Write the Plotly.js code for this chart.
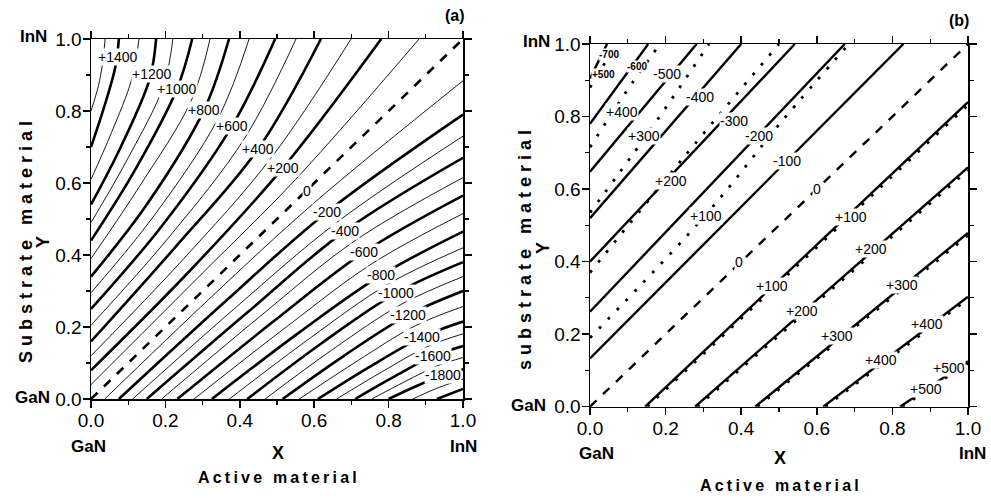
<!DOCTYPE html>
<html><head><meta charset="utf-8">
<script src="https://cdn.plot.ly/plotly-3.0.1.min.js"></script>
<style>html,body{margin:0;padding:0;background:#fff;}</style>
</head><body><div id="chart" style="width:991px;height:498px;"></div>
<script>
// ---------- Panel (a): contour levels and traced line points ----------
const aLevels = [1500,1400,1300,1200,1100,1000,900,800,700,600,500,400,300,200,100,0,
  -100,-200,-300,-400,-500,-600,-700,-800,-900,-1000,-1100,-1200,-1300,-1400,-1500,-1600,-1700,-1800,-1900,-2000];
const aLineX = [
  [0,.02,.03,.038],[0,.035,.065,.075],[0,.055,.11,.129],[0,.08,.158,.175],[0,.10,.195,.22],
  [0,.115,.231,.272],[0,.13,.27,.32],[0,.15,.304,.371],[0,.17,.342,.425],[0,.19,.379,.495],
  [0,.21,.414,.551],[0,.225,.449,.618],[0,.245,.483,.699],[0,.26,.516,.78],[0,.30,.55,.882],
  [0,1],
  [.037,.32,.6,1],[.075,.36,.634,1],[.112,.39,.66,1],[.15,.42,.683,1],[.19,.455,.71,1],
  [.232,.49,.734,1],[.277,.525,.757,1],[.325,.56,.78,1],[.372,.59,.80,1],[.42,.62,.82,1],
  [.468,.65,.836,1],[.515,.68,.852,1],[.56,.715,.871,1],[.61,.75,.89,1],[.66,.783,.905,1],
  [.71,.815,.919,1],[.755,.845,.933,1],[.80,.875,.946,1],[.865,.935,1],[.93,1]
];
const aLineY = [
  [.80,.87,.925,1],[.70,.81,.92,1],[.61,.74,.89,1],[.54,.70,.89,1],[.49,.67,.87,1],
  [.44,.63,.861,1],[.39,.59,.83,1],[.34,.54,.803,1],[.295,.51,.78,1],[.25,.48,.758,1],
  [.205,.45,.726,1],[.16,.42,.694,1],[.12,.385,.668,1],[.08,.35,.642,1],[.04,.35,.61,1],
  [0,1],
  [0,.28,.545,.884],[0,.27,.519,.79],[0,.255,.49,.73],[0,.24,.467,.67],[0,.23,.44,.615],
  [0,.215,.408,.565],[0,.20,.377,.515],[0,.185,.344,.465],[0,.17,.32,.42],[0,.155,.294,.38],
  [0,.138,.264,.34],[0,.12,.233,.30],[0,.105,.203,.257],[0,.09,.172,.215],[0,.076,.146,.181],
  [0,.062,.119,.147],[0,.049,.093,.115],[0,.036,.067,.083],[0,.032,.055],[0,.028]
];
const aLabelText = ["+1400","+1200","+1000","+800","+600","+400","+200","0","-200","-400","-600","-800","-1000","-1200","-1400","-1600","-1800"];
const aLabelX = [.073,.164,.231,.304,.379,.449,.516,.581,.634,.683,.734,.780,.820,.852,.890,.919,.946];
const aLabelY = [.950,.903,.861,.803,.758,.694,.642,.578,.519,.467,.408,.344,.294,.233,.172,.119,.067];

// ---------- Panel (b) ----------
const bSolidLevels = [-700,-600,-500,-400,-300,-200,-100,0,100,200,300,400,500];
const bSolidX = [[0,.045],[0,.154],[0,.282],[0,.40],[0,.542],[0,.674],[0,.829],[0,1],
  [.146,1],[.278,1],[.437,1],[.617,1],[.82,1]];
const bSolidY = [[.905,1],[.78,1],[.648,1],[.52,1],[.40,1],[.262,1],[.133,1],[0,1],
  [0,.84],[0,.66],[0,.479],[0,.303],[0,.125]];
const bDotLevels = [500,400,300,200,100,100,200,300,400,500];
const bDotX = [[0,.07],[0,.093,.185],[0,.15,.315],[0,.25,.50],[0,.307,.51,.685],
  [.152,1],[.284,1],[.443,1],[.623,1],[.826,1]];
const bDotY = [[.88,1],[.715,.864,1],[.535,.749,1],[.37,.69,1],[.19,.53,.79,1],
  [0,.832],[0,.652],[0,.472],[0,.297],[0,.12]];
const bLabelText = ["-700","+500","-600","-500","+400","-400","+300","-300","+200","-200","+100","-100","0","0",
  "+100","+200","+300","+400","+500","+100","+200","+300","+400","+500"];
const bLabelX = [.05,.037,.124,.204,.085,.291,.143,.381,.214,.447,.307,.521,.60,.395,
  .69,.743,.825,.892,.95,.481,.561,.653,.77,.889];
const bLabelY = [.97,.917,.939,.917,.812,.854,.746,.787,.622,.746,.526,.677,.60,.40,
  .523,.435,.335,.228,.106,.332,.263,.194,.128,.05];

const ticksVals = [0,0.2,0.4,0.6,0.8,1.0];
const ticksText = ["0.0","0.2","0.4","0.6","0.8","1.0"];

// ---------- build ----------
const traces = [];
aLevels.forEach((lv,i)=>{
  const thick = (lv % 200 === 0);
  traces.push({type:'scatter',mode:'lines',x:aLineX[i],y:aLineY[i],xaxis:'x',yaxis:'y',
    hoverinfo:'skip',showlegend:false,
    line:{color:'#000',width: lv===0 ? 2.6 : (thick?2.6:0.9), shape:'spline', smoothing:1,
          dash: lv===0 ? '9px,9px' : 'solid'}});
});
bSolidLevels.forEach((lv,i)=>{
  traces.push({type:'scatter',mode:'lines',x:bSolidX[i],y:bSolidY[i],xaxis:'x2',yaxis:'y2',
    hoverinfo:'skip',showlegend:false,
    line:{color:'#000',width:2.4,shape:'spline',dash: lv===0 ? '9px,9px':'solid'}});
});
bDotLevels.forEach((lv,i)=>{
  traces.push({type:'scatter',mode:'lines',x:bDotX[i],y:bDotY[i],xaxis:'x2',yaxis:'y2',
    hoverinfo:'skip',showlegend:false,
    line:{color:'#000',width:2.8,shape:'spline',dash:'2.8px,10px'}});
});

const FONT = 'Liberation Sans, Arial, sans-serif';
const ann = [];
aLabelText.forEach((t,i)=>ann.push({xref:'x',yref:'y',x:aLabelX[i],y:aLabelY[i],text:t,showarrow:false,
  bgcolor:'#fff',borderpad:0,font:{family:FONT,size:14,color:'#000'}}));
bLabelText.forEach((t,i)=>{
  const small = i<3;
  ann.push({xref:'x2',yref:'y2',x:bLabelX[i],y:bLabelY[i],text: small?('<b>'+t+'</b>'):t,showarrow:false,
    bgcolor:'#fff',borderpad:0,font:{family:FONT,size: small?10:14,color:'#000'}});
});
function P(px,py,text,size,angle){
  ann.push({xref:'paper',yref:'paper',x:px/991,y:1-py/498,text:text,showarrow:false,
    xanchor:'center',yanchor:'middle',textangle:angle||0,font:{family:FONT,size:size,color:'#000'}});
}
const sp = s => s.split('').join('\u2009');
const sp2 = s => s.split('').join('\u00a0');
// panel a text
P(455,15,'<b>(a)</b>',16);
P(33,36,'<b>InN</b>',17);
P(32,397,'<b>GaN</b>',17);
P(88,446,'<b>GaN</b>',17);
P(463,446,'<b>InN</b>',17);
P(278,453,'<b>X</b>',18);
P(277,477,'<b>'+sp('Active material')+'</b>',16);
P(26,242,'<b>'+sp2('Substrate')+'\u00a0\u00a0\u00a0'+sp2('material')+'</b>',18,-90);
P(43,242,'<b>Y</b>',18,-90);
// panel b text
P(959,20,'<b>(b)</b>',16);
P(536,42,'<b>InN</b>',17);
P(528,405,'<b>GaN</b>',17);
P(596,453,'<b>GaN</b>',17);
P(972,453,'<b>InN</b>',17);
P(780,458,'<b>X</b>',18);
P(779,485,'<b>'+sp('Active material')+'</b>',16);
P(525,250,'<b>'+sp2('substrate')+'\u00a0\u00a0\u00a0'+sp2('material')+'</b>',18,-90);
P(543,248,'<b>Y</b>',18,-90);

function ax(dom, anchor){
  return {domain:dom, anchor:anchor, range:[0,1], showgrid:false, zeroline:false,
    showline:true, linecolor:'#000', linewidth:1.5, mirror:'ticks',
    ticks:'outside', ticklen:7, tickwidth:1.5, tickcolor:'#000', ticklabelstandoff:-3,
    tickvals:ticksVals, ticktext:ticksText,
    tickfont:{family:'Liberation Sans Narrow, Arial Narrow, Liberation Sans, Arial, sans-serif',size:19,color:'#000'},
    minor:{tickvals:[0.1,0.3,0.5,0.7,0.9],ticks:'outside',ticklen:4,tickwidth:1.2,tickcolor:'#000'},
    fixedrange:true};
}
const layout = {
  width:991,height:498,margin:{l:0,r:0,t:0,b:0},paper_bgcolor:'#fff',plot_bgcolor:'#fff',
  showlegend:false,
  xaxis: ax([91/991,463/991],'y'),
  yaxis: ax([1-399/498,1-39/498],'x'),
  xaxis2: ax([590/991,968/991],'y2'),
  yaxis2: ax([1-406.7/498,1-44/498],'x2'),
  annotations: ann
};
Plotly.newPlot('chart',traces,layout,{staticPlot:true,displayModeBar:false});
</script></body></html>
